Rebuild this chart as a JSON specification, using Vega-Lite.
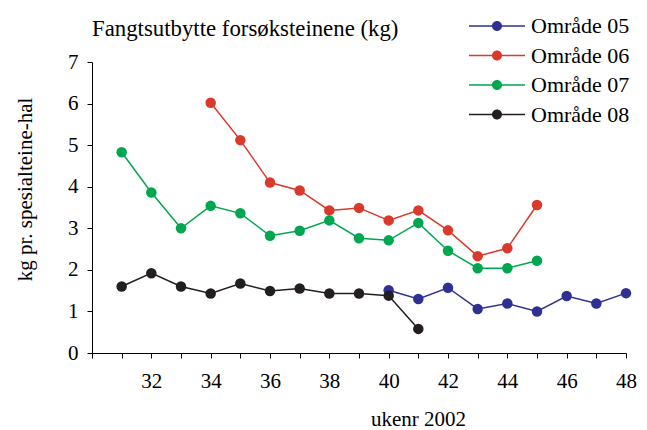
{
  "$schema": "https://vega.github.io/schema/vega-lite/v6.json",
  "width": 534,
  "height": 291,
  "autosize": {"type": "none"},
  "padding": {"left": 92, "top": 62, "right": 21, "bottom": 77},
  "background": "white",
  "title": {
    "text": "Fangtsutbytte forsøksteinene (kg)",
    "anchor": "start",
    "frame": "group",
    "font": "Liberation Serif",
    "fontSize": 22.8,
    "fontWeight": "normal",
    "color": "black",
    "baseline": "alphabetic",
    "offset": 30,
    "dy": 74
  },
  "config": {
    "view": {"stroke": null},
    "axis": {
      "grid": false,
      "domainColor": "black",
      "tickColor": "black",
      "labelColor": "black",
      "titleColor": "black",
      "labelFont": "Liberation Serif",
      "titleFont": "Liberation Serif",
      "labelFontSize": 21,
      "titleFontSize": 21,
      "titleFontWeight": "normal",
      "tickSize": 5
    },
    "legend": {
      "labelFont": "Liberation Serif",
      "labelFontSize": 22,
      "labelColor": "black"
    }
  },
  "data": {
    "values": [
      {"week": 40, "area": "Område 05", "kg": 1.51},
      {"week": 41, "area": "Område 05", "kg": 1.30},
      {"week": 42, "area": "Område 05", "kg": 1.57},
      {"week": 43, "area": "Område 05", "kg": 1.06},
      {"week": 44, "area": "Område 05", "kg": 1.19},
      {"week": 45, "area": "Område 05", "kg": 1.00},
      {"week": 46, "area": "Område 05", "kg": 1.37},
      {"week": 47, "area": "Område 05", "kg": 1.19},
      {"week": 48, "area": "Område 05", "kg": 1.44},
      {"week": 34, "area": "Område 06", "kg": 6.02},
      {"week": 35, "area": "Område 06", "kg": 5.12},
      {"week": 36, "area": "Område 06", "kg": 4.10},
      {"week": 37, "area": "Område 06", "kg": 3.91},
      {"week": 38, "area": "Område 06", "kg": 3.43},
      {"week": 39, "area": "Område 06", "kg": 3.49},
      {"week": 40, "area": "Område 06", "kg": 3.19},
      {"week": 41, "area": "Område 06", "kg": 3.43},
      {"week": 42, "area": "Område 06", "kg": 2.95},
      {"week": 43, "area": "Område 06", "kg": 2.33},
      {"week": 44, "area": "Område 06", "kg": 2.52},
      {"week": 45, "area": "Område 06", "kg": 3.56},
      {"week": 31, "area": "Område 07", "kg": 4.83},
      {"week": 32, "area": "Område 07", "kg": 3.86},
      {"week": 33, "area": "Område 07", "kg": 3.00},
      {"week": 34, "area": "Område 07", "kg": 3.54},
      {"week": 35, "area": "Område 07", "kg": 3.36},
      {"week": 36, "area": "Område 07", "kg": 2.82},
      {"week": 37, "area": "Område 07", "kg": 2.94},
      {"week": 38, "area": "Område 07", "kg": 3.19},
      {"week": 39, "area": "Område 07", "kg": 2.76},
      {"week": 40, "area": "Område 07", "kg": 2.71},
      {"week": 41, "area": "Område 07", "kg": 3.13},
      {"week": 42, "area": "Område 07", "kg": 2.46},
      {"week": 43, "area": "Område 07", "kg": 2.04},
      {"week": 44, "area": "Område 07", "kg": 2.04},
      {"week": 45, "area": "Område 07", "kg": 2.22},
      {"week": 31, "area": "Område 08", "kg": 1.60},
      {"week": 32, "area": "Område 08", "kg": 1.92},
      {"week": 33, "area": "Område 08", "kg": 1.60},
      {"week": 34, "area": "Område 08", "kg": 1.43},
      {"week": 35, "area": "Område 08", "kg": 1.67},
      {"week": 36, "area": "Område 08", "kg": 1.49},
      {"week": 37, "area": "Område 08", "kg": 1.55},
      {"week": 38, "area": "Område 08", "kg": 1.43},
      {"week": 39, "area": "Område 08", "kg": 1.43},
      {"week": 40, "area": "Område 08", "kg": 1.38},
      {"week": 41, "area": "Område 08", "kg": 0.58}
    ]
  },
  "encoding": {
    "x": {
      "field": "week",
      "type": "quantitative",
      "scale": {"domain": [30, 48], "nice": false, "zero": false},
      "axis": {
        "title": "ukenr 2002",
        "values": [30, 31, 32, 33, 34, 35, 36, 37, 38, 39, 40, 41, 42, 43, 44, 45, 46, 47, 48],
        "labelExpr": "datum.value % 2 == 0 && datum.value > 30 ? datum.label : ''",
        "labelPadding": 12,
        "labelFlush": false,
        "labelOverlap": false,
        "titleX": 326,
        "titleY": 72,
        "titleBaseline": "alphabetic",
        "titleAlign": "center",
        "titleAnchor": null
      }
    },
    "y": {
      "field": "kg",
      "type": "quantitative",
      "scale": {"domain": [0, 7], "nice": false},
      "axis": {
        "title": "kg pr. spesialteine-hal",
        "values": [0, 1, 2, 3, 4, 5, 6, 7],
        "labelPadding": 9,
        "titleX": -57,
        "titleY": 127,
        "titleAnchor": null
      }
    },
    "color": {
      "field": "area",
      "type": "nominal",
      "scale": {
        "domain": ["Område 05", "Område 06", "Område 07", "Område 08"],
        "range": ["#2E3192", "#D93A2B", "#00A650", "#231F20"]
      },
      "legend": {
        "title": null,
        "orient": "none",
        "legendX": 394,
        "legendY": -47,
        "symbolType": "M-5.6,-0.14 L5.6,-0.14 L5.6,0.14 L-5.6,0.14 Z M1,0 A1,1 0 1 1 -1,0 A1,1 0 1 1 1,0 Z",
        "symbolSize": 100,
        "symbolStrokeWidth": 0,
        "labelOffset": 23,
        "rowPadding": 7.5
      }
    }
  },
  "layer": [
    {"mark": {"type": "line", "strokeWidth": 1.5}},
    {"mark": {"type": "point", "filled": true, "size": 110, "opacity": 1}}
  ]
}
